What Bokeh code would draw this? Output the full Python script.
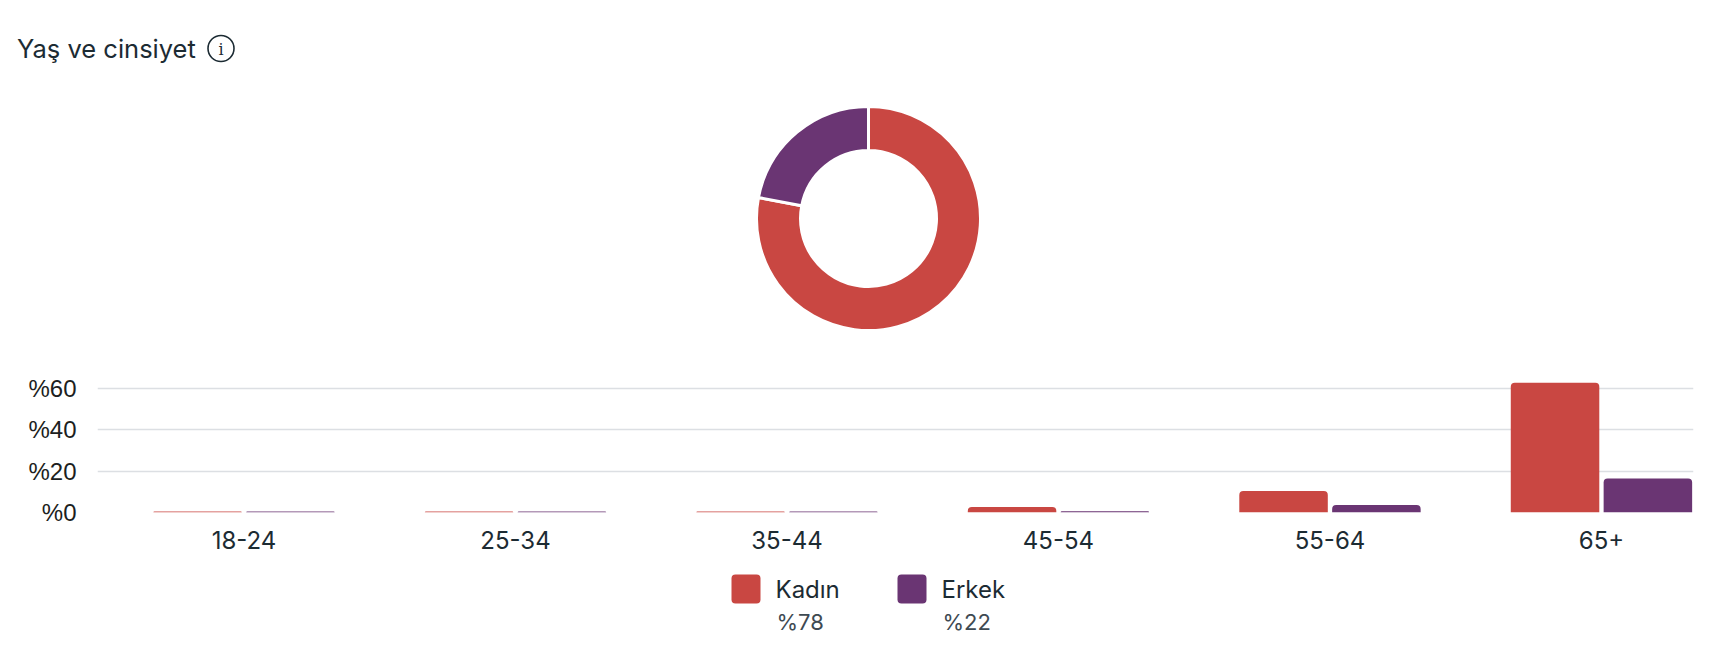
import math
from bokeh.plotting import figure
from bokeh.models import Range1d, FixedTicker
from bokeh.transform import dodge
from bokeh.core.properties import value
from bokeh.embed import file_html
from bokeh.resources import INLINE

# ---------------- data ----------------
title_text = "Yaş ve cinsiyet"
genders = ["Kadın", "Erkek"]
gender_share = [78, 22]
gender_colors = ["#C94742", "#6A3573"]
age_groups = ["18-24", "25-34", "35-44", "45-54", "55-64", "65+"]
kadin_pct = [0.5, 0.5, 0.5, 2.7, 10.4, 62.8]
erkek_pct = [0.5, 0.5, 0.5, 0.6, 3.6, 16.4]
y_ticks = [0, 20, 40, 60]
y_tick_labels = ["%0", "%20", "%40", "%60"]

TEXT = "#1c2b33"
FONT = "Inter"
W = 1708


def blank(h):
    p = figure(width=W, height=h, x_range=Range1d(0, W), y_range=Range1d(0, h),
               toolbar_location=None, output_backend="svg", min_border=0,
               x_axis_location=None, y_axis_location=None)
    p.grid.visible = False
    p.outline_line_color = None
    return p


# ---------------- top: title + donut ----------------
HA = 338
pa = blank(HA)
pa.text(x=[16.5], y=[HA - 48], text=[title_text], text_font=value(FONT),
        text_font_size="25.5px", text_color=TEXT, text_baseline="middle",
        text_align="left")
pa.scatter(x=[220.5], y=[HA - 48], size=26, marker="circle", fill_color=None,
           line_color=TEXT, line_width=1.6)
pa.text(x=[220.5], y=[HA - 48.5], text=["i"], text_font=value("DejaVu Serif"),
        text_font_size="16px", text_color=TEXT, text_baseline="middle",
        text_align="center")

total = sum(gender_share)
cum = 0.0
starts, ends = [], []
for s in gender_share:
    ends.append(math.pi / 2 - 2 * math.pi * cum / total)
    cum += s
    starts.append(math.pi / 2 - 2 * math.pi * cum / total)
pa.annular_wedge(x=[868] * len(genders), y=[HA - 218] * len(genders),
                 inner_radius=68, outer_radius=112,
                 inner_radius_units="screen", outer_radius_units="screen",
                 start_angle=starts, end_angle=ends, direction="anticlock",
                 fill_color=gender_colors, line_color="white", line_width=3)

# ---------------- middle: bars ----------------
HB = 222
pb = figure(width=W, height=HB, x_range=Range1d(-0.5396, 5.339),
            y_range=Range1d(0, 73.5), toolbar_location=None,
            output_backend="svg", min_border_left=97, min_border_right=15,
            min_border_top=22, min_border_bottom=48)
pb.outline_line_color = None
pb.xgrid.visible = False
pb.ygrid.grid_line_color = "#dcdfe3"
pb.ygrid.grid_line_width = 1.6
pb.yaxis.ticker = FixedTicker(ticks=y_ticks)
pb.yaxis.major_label_overrides = {t: l for t, l in zip(y_ticks, y_tick_labels)}
pb.xaxis.ticker = FixedTicker(ticks=list(range(len(age_groups))))
pb.xaxis.major_label_overrides = {i: a for i, a in enumerate(age_groups)}
for ax in (pb.xaxis, pb.yaxis):
    ax.axis_line_color = None
    ax.major_tick_line_color = None
    ax.minor_tick_line_color = None
pb.yaxis.major_label_text_font = "Liberation Sans"
pb.yaxis.major_label_text_font_size = "24px"
pb.yaxis.major_label_text_color = "#1c1e21"
pb.yaxis.major_label_standoff = 15
pb.xaxis.major_label_text_font = FONT
pb.xaxis.major_label_text_font_size = "24px"
pb.xaxis.major_label_text_color = TEXT
pb.xaxis.major_label_standoff = 12

src = dict(x=list(range(len(age_groups))), k=kadin_pct, e=erkek_pct)
pb.vbar(x=dodge("x", -0.171, range=pb.x_range), top="k", bottom=0, width=0.326,
        source=src, fill_color=gender_colors[0], line_color=None,
        border_radius=(4, 4, 0, 0))
pb.vbar(x=dodge("x", 0.171, range=pb.x_range), top="e", bottom=0, width=0.326,
        source=src, fill_color=gender_colors[1], line_color=None,
        border_radius=(4, 4, 0, 0))

# ---------------- bottom: legend ----------------
HC = 92
pc = blank(HC)
lx = [745.5 + 166 * i for i in range(len(genders))]
pc.rect(x=lx, y=[HC - 28.5] * len(genders), width=29, height=29,
        width_units="screen", height_units="screen",
        fill_color=gender_colors, line_color=None, border_radius=4)
pc.text(x=[v + 29.5 for v in lx], y=[HC - 28.5] * len(genders), text=genders,
        text_font=value(FONT), text_font_size="24px", text_color=TEXT,
        text_baseline="middle", text_align="left")
pc.text(x=[v + 30.5 for v in lx], y=[HC - 61] * len(genders),
        text=[f"%{s}" for s in gender_share],
        text_font=value(FONT), text_font_size="22px", text_color="#3e4a52",
        text_baseline="middle", text_align="left")

open("out.html", "w").write(file_html([pa, pb, pc], INLINE))
